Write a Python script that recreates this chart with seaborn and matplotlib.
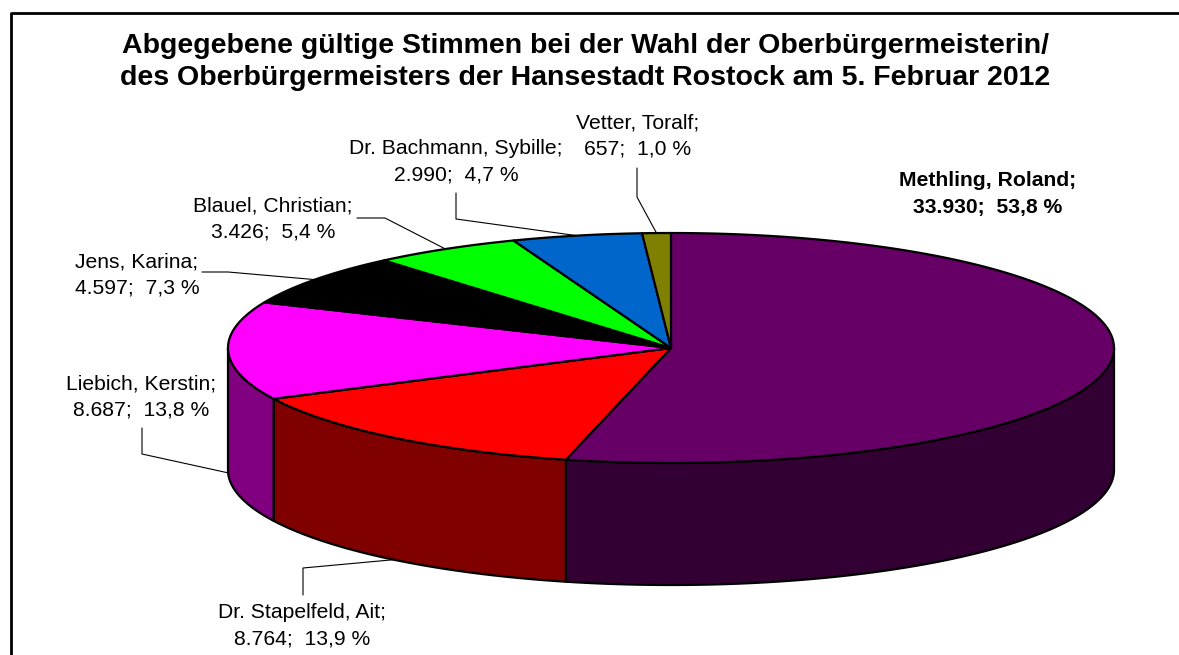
import numpy as np
import matplotlib
matplotlib.use("Agg")
import matplotlib.pyplot as plt
import seaborn as sns
from matplotlib.patches import Polygon

# Daten aus dem Diagramm
kandidaten = ["Methling, Roland", "Dr. Stapelfeld, Ait", "Liebich, Kerstin",
              "Jens, Karina", "Blauel, Christian", "Dr. Bachmann, Sybille",
              "Vetter, Toralf"]
stimmen = [33930, 8764, 8687, 4597, 3426, 2990, 657]
farben_oben = ["#660066", "#FF0000", "#FF00FF", "#000000", "#00FF00", "#0066CC", "#808000"]
farben_seite = ["#330033", "#800000", "#800080", "#000000", "#008000", "#003366", "#404000"]

titel = ("Abgegebene gültige Stimmen bei der Wahl der Oberbürgermeisterin/\n"
         "des Oberbürgermeisters der Hansestadt Rostock am 5. Februar 2012")

sns.set_theme(style="white")
plt.rcParams['font.family'] = ['Liberation Sans', 'DejaVu Sans']
plt.rcParams['text.color'] = 'black'

# Geometrie der 3D-Torte (Pixelkoordinaten)
cx, cy = 671, 348
rx, ry = 443, 115
tiefe = 122

fig = plt.figure(figsize=(11.79, 6.55), dpi=100)
ax = fig.add_axes([0, 0, 1, 1])
ax.set_xlim(0, 1179)
ax.set_ylim(655, 0)
ax.axis("off")

anteile = np.array(stimmen) / np.sum(stimmen)
kum = np.concatenate([[0], np.cumsum(anteile)])
start = 90 - 360 * kum[:-1]
ende = 90 - 360 * kum[1:]


def punkt(theta, dy=0):
    t = np.radians(theta)
    return cx + rx * np.cos(t), cy - ry * np.sin(t) + dy


# Seitenwaende (nur vordere Haelfte sichtbar)
for i in range(len(stimmen)):
    lo = max(ende[i], -180)
    hi = min(start[i], 0)
    if lo >= hi:
        continue
    th = np.linspace(hi, lo, 120)
    ox, oy = punkt(th)
    ux, uy = punkt(th[::-1], tiefe)
    xs = np.concatenate([ox, ux])
    ys = np.concatenate([oy, uy])
    ax.add_patch(Polygon(np.column_stack([xs, ys]), closed=True,
                         facecolor=farben_seite[i], edgecolor="black",
                         linewidth=1.6, joinstyle="round"))

# Oberseite
for i in range(len(stimmen)):
    th = np.linspace(start[i], ende[i], 200)
    px, py = punkt(th)
    xs = np.concatenate([[cx], px])
    ys = np.concatenate([[cy], py])
    ax.add_patch(Polygon(np.column_stack([xs, ys]), closed=True,
                         facecolor=farben_oben[i], edgecolor="black",
                         linewidth=1.6, joinstyle="round"))

# Beschriftungen: Textmitte und Knick der Fuehrungslinie
label_pos = [(988, 194), (302, 626), (141, 397), (137, 275),
             (273, 219), (456, 162), (638, 136)]
knick = [None,
         [(303, 595), (303, 568)],
         [(142, 428), (142, 454)],
         [(202, 272), (228, 272)],
         [(357, 218), (385, 218)],
         [(456, 193), (456, 219)],
         [(637, 168), (637, 197)]]

for i, name in enumerate(kandidaten):
    zahl = f"{stimmen[i]:,}".replace(",", ".")
    pct = f"{anteile[i] * 100:.1f}".replace(".", ",")
    text = f"{name};\n{zahl};  {pct} %"
    ax.text(label_pos[i][0], label_pos[i][1], text, ha="center", va="center",
            fontsize=15.2, linespacing=1.5,
            fontweight="bold" if i == 0 else "normal", color="black")
    if knick[i] is None:
        continue
    mitte = (start[i] + ende[i]) / 2
    if np.sin(np.radians(mitte)) < 0:
        ax_, ay_ = punkt(mitte, tiefe)
    else:
        ax_, ay_ = punkt(mitte)
    lx = [knick[i][0][0], knick[i][1][0], ax_]
    ly = [knick[i][0][1], knick[i][1][1], ay_]
    ax.plot(lx, ly, color="black", linewidth=0.8)

ax.text(585, 62, titel, ha="center", va="center", fontsize=20.5,
        fontweight="bold", linespacing=1.3, color="black")

# Rahmen (rechts und unten abgeschnitten)
ax.plot([11, 1179], [13, 13], color="black", linewidth=2, solid_capstyle="butt")
ax.plot([11, 11], [12, 655], color="black", linewidth=2, solid_capstyle="butt")

fig.savefig("out.png", dpi=100)
